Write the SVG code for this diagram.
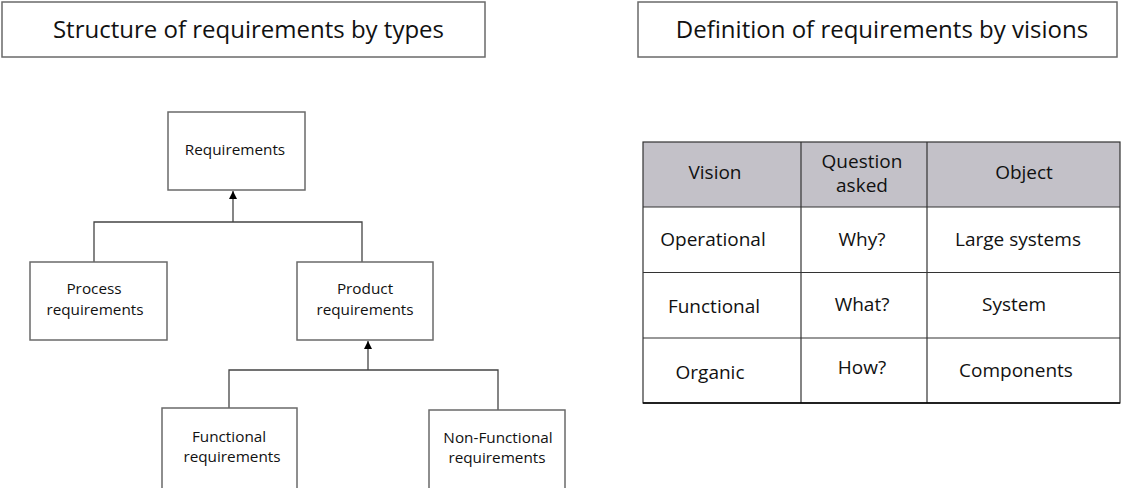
<svg xmlns="http://www.w3.org/2000/svg" width="1122" height="488" viewBox="0 0 1122 488">
<style>
.box{fill:#fff;stroke:#6a6a6a;stroke-width:1.5}
.title{font-family:"Open Sans","Noto Sans",sans-serif;font-size:24px;fill:#111;text-anchor:middle}
.t{font-family:"Open Sans","Noto Sans",sans-serif;font-size:15.3px;fill:#111;text-anchor:middle}
.c{font-family:"Open Sans","Noto Sans",sans-serif;font-size:19px;fill:#111;text-anchor:middle}
.conn{fill:none;stroke:#444;stroke-width:1.3}
.grid{stroke:#333;stroke-width:1.2;fill:none}
</style>
<defs>
<marker id="arr" viewBox="0 0 10 10" refX="10" refY="5" markerWidth="8" markerHeight="8" markerUnits="userSpaceOnUse" orient="auto">
<path d="M0,0 L10,5 L0,10 z" fill="#000"/>
</marker>
</defs>
<rect width="1122" height="488" fill="#fff"/>

<g id="title-left">
<rect class="box" x="2" y="2" width="483" height="55"/>
<text class="title" x="248.5" y="38">Structure of requirements by types</text>
</g>
<g id="title-right">
<rect class="box" x="638" y="2" width="479" height="55"/>
<text class="title" x="882" y="38">Definition of requirements by visions</text>
</g>

<g id="connectors">
<polyline class="conn" points="94,262 94,222 362,222 362,262"/>
<line class="conn" x1="233" y1="222" x2="233" y2="191" stroke="#111" marker-end="url(#arr)"/>
<polyline class="conn" points="229,408 229,370 498,370 498,410"/>
<line class="conn" x1="368" y1="370" x2="368" y2="341" stroke="#111" marker-end="url(#arr)"/>
</g>

<g id="node-requirements">
<rect class="box" x="168" y="112" width="137" height="78"/>
<text class="t" x="235" y="155">Requirements</text>
</g>
<g id="node-process">
<rect class="box" x="30" y="262" width="137" height="78"/>
<text class="t" x="94" y="294">Process</text>
<text class="t" x="95" y="315">requirements</text>
</g>
<g id="node-product">
<rect class="box" x="297" y="262" width="136" height="78"/>
<text class="t" x="365" y="294">Product</text>
<text class="t" x="365" y="315">requirements</text>
</g>
<g id="node-functional">
<rect class="box" x="162" y="408" width="135" height="82"/>
<text class="t" x="229" y="442">Functional</text>
<text class="t" x="232" y="462">requirements</text>
</g>
<g id="node-nonfunctional">
<rect class="box" x="429" y="410" width="136" height="80"/>
<text class="t" x="498" y="443">Non-Functional</text>
<text class="t" x="497" y="463">requirements</text>
</g>

<g id="table">
<rect x="643" y="142" width="477" height="65" fill="#c3c1c8"/>
<rect class="grid" x="643" y="142" width="477" height="261"/>
<line class="grid" x1="643" y1="207" x2="1120" y2="207"/>
<line class="grid" x1="643" y1="272.5" x2="1120" y2="272.5"/>
<line class="grid" x1="643" y1="338" x2="1120" y2="338"/>
<line class="grid" x1="801" y1="142" x2="801" y2="403"/>
<line class="grid" x1="927" y1="142" x2="927" y2="403"/>
<line x1="643" y1="403" x2="1120" y2="403" stroke="#000" stroke-width="1.6"/>
<text class="c" x="715" y="179">Vision</text>
<text class="c" x="862" y="168">Question</text>
<text class="c" x="862" y="192">asked</text>
<text class="c" x="1024" y="179">Object</text>
<text class="c" x="713" y="246">Operational</text>
<text class="c" x="862" y="246">Why?</text>
<text class="c" x="1018" y="246">Large systems</text>
<text class="c" x="714" y="313">Functional</text>
<text class="c" x="862" y="311">What?</text>
<text class="c" x="1014" y="311">System</text>
<text class="c" x="710" y="379">Organic</text>
<text class="c" x="862" y="374">How?</text>
<text class="c" x="1016" y="377">Components</text>
</g>
</svg>
